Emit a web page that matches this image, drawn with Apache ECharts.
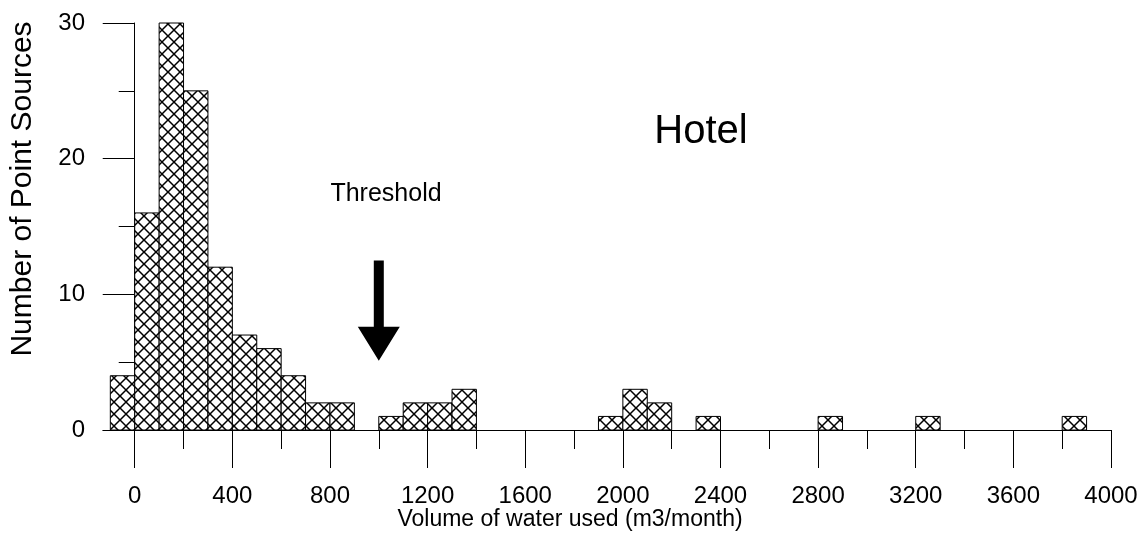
<!DOCTYPE html>
<html>
<head>
<meta charset="utf-8">
<script src="https://cdn.jsdelivr.net/npm/echarts@6.0.0/dist/echarts.min.js"></script>
<style>
  html, body { margin: 0; padding: 0; background: #fff; }
  #chart { width: 1148px; height: 538px; }
</style>
</head>
<body>
<div id="chart"></div>
<script>
// ---- data ----
const binStart = [-100, 0, 100, 200, 300, 400, 500, 600, 700, 800, 900,
  1000, 1100, 1200, 1300, 1400, 1500, 1600, 1700, 1800, 1900,
  2000, 2100, 2200, 2300, 2400, 2500, 2600, 2700, 2800, 2900,
  3000, 3100, 3200, 3300, 3400, 3500, 3600, 3700, 3800, 3900];
const binWidth = 100;
const counts = [4, 16, 30, 25, 12, 7, 6, 4, 2, 2, 0,
  1, 2, 2, 3, 0, 0, 0, 0, 0, 1,
  3, 2, 0, 1, 0, 0, 0, 0, 1, 0,
  0, 0, 1, 0, 0, 0, 0, 0, 1, 0];
const xTickValues = [0, 400, 800, 1200, 1600, 2000, 2400, 2800, 3200, 3600, 4000];
const xMinorTickValues = [200, 600, 1000, 1400, 1800, 2200, 2600, 3000, 3400, 3800];
const thresholdValue = 1000;
const arrowFrom = 12.5;
const arrowTo = 5.1;
const xAxisTitle = 'Volume of water used (m3/month)';
const yAxisTitle = 'Number of Point Sources';
const annotationText = 'Threshold';
const panelTitle = 'Hotel';

// ---- hatch pattern ----
function makeHatch() {
  const c = document.createElement('canvas');
  c.width = 12; c.height = 12;
  const g = c.getContext('2d');
  g.fillStyle = '#fff';
  g.fillRect(0, 0, 12, 12);
  g.strokeStyle = '#000';
  g.lineWidth = 1.5;
  g.beginPath();
  g.moveTo(-1, -1); g.lineTo(13, 13);
  g.moveTo(13, -1); g.lineTo(-1, 13);
  g.stroke();
  return c;
}
const hatch = { image: makeHatch(), repeat: 'repeat' };

const FONT = '"Liberation Sans", Arial, Helvetica, sans-serif';
const histData = binStart.map((s, i) => [s, s + binWidth, counts[i]]);
const plain = v => String(v);

const chart = echarts.init(document.getElementById('chart'), null, { renderer: 'canvas' });
chart.setOption({
  animation: false,
  backgroundColor: '#fff',
  grid: { left: 103, right: 37, top: 23, bottom: 108, containLabel: false, outerBoundsMode: 'none' },
  xAxis: [
    {
      type: 'value', min: -130, max: 4000, position: 'bottom',
      axisLine: { show: true, onZero: false, lineStyle: { color: '#000', width: 1 } },
      axisTick: { show: true, length: 38, customValues: xTickValues, lineStyle: { color: '#000', width: 1 } },
      axisLabel: { show: true, customValues: xTickValues, formatter: plain, margin: 54, fontSize: 24, color: '#000', fontFamily: FONT },
      splitLine: { show: false }
    },
    {
      type: 'value', min: -130, max: 4000, position: 'bottom',
      axisLine: { show: false, onZero: false },
      axisTick: { show: true, length: 19, customValues: xMinorTickValues, lineStyle: { color: '#000', width: 1 } },
      axisLabel: { show: false },
      splitLine: { show: false }
    }
  ],
  yAxis: {
    type: 'value', min: 0, max: 30, interval: 10,
    axisLine: { show: true, onZero: true, onZeroAxisIndex: 0, lineStyle: { color: '#000', width: 1 } },
    axisTick: { show: true, length: 32, lineStyle: { color: '#000', width: 1 } },
    minorTick: { show: true, splitNumber: 2, length: 16, lineStyle: { color: '#000', width: 1 } },
    axisLabel: { margin: 18, formatter: plain, fontSize: 24, color: '#000', fontFamily: FONT },
    splitLine: { show: false },
    minorSplitLine: { show: false }
  },
  graphic: [
    { type: 'text', x: 570, y: 520, style: { text: xAxisTitle, font: '23px ' + FONT, fill: '#000', align: 'center', verticalAlign: 'middle' } },
    { type: 'text', x: 23, y: 189, rotation: Math.PI / 2, style: { text: yAxisTitle, font: '30px ' + FONT, fill: '#000', align: 'center', verticalAlign: 'middle' } },
    { type: 'text', x: 386, y: 194, style: { text: annotationText, font: '25px ' + FONT, fill: '#000', align: 'center', verticalAlign: 'middle' } },
    { type: 'text', x: 701, y: 132, style: { text: panelTitle, font: '40px ' + FONT, fill: '#000', align: 'center', verticalAlign: 'middle' } }
  ],
  series: [
    {
      type: 'custom', coordinateSystem: 'cartesian2d', xAxisIndex: 0, yAxisIndex: 0,
      data: histData,
      encode: { x: [0, 1], y: 2 },
      clip: false,
      renderItem: function (params, api) {
        const s = api.value(0), e = api.value(1), v = api.value(2);
        if (!v) return null;
        const p0 = api.coord([s, v]);
        const p1 = api.coord([e, 0]);
        return {
          type: 'rect',
          shape: { x: p0[0], y: p0[1], width: p1[0] - p0[0], height: p1[1] - p0[1] },
          style: { fill: hatch, stroke: '#000', lineWidth: 1 }
        };
      }
    },
    {
      type: 'custom', coordinateSystem: 'cartesian2d', xAxisIndex: 0, yAxisIndex: 0,
      data: [[thresholdValue, arrowFrom, arrowTo]],
      encode: { x: 0, y: [1, 2] },
      renderItem: function (params, api) {
        const top = api.coord([api.value(0), api.value(1)]);
        const tip = api.coord([api.value(0), api.value(2)]);
        const x = top[0];
        const hw = 5, headW = 21, headH = 34;
        return {
          type: 'polygon',
          shape: { points: [
            [x - hw, top[1]], [x + hw, top[1]], [x + hw, tip[1] - headH],
            [x + headW, tip[1] - headH], [x, tip[1]], [x - headW, tip[1] - headH],
            [x - hw, tip[1] - headH]
          ] },
          style: { fill: '#000' }
        };
      }
    }
  ]
});
</script>
</body>
</html>
